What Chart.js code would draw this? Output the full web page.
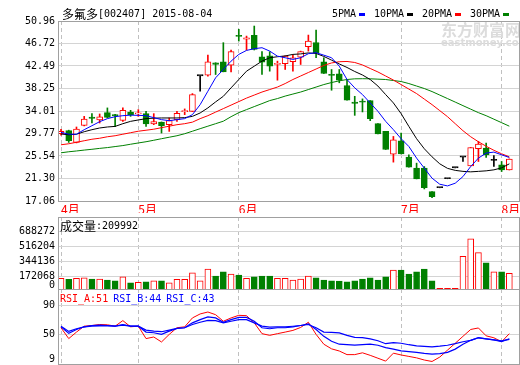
<!DOCTYPE html>
<html><head><meta charset="utf-8">
<script src="https://cdn.jsdelivr.net/npm/chart.js@4.4.1/dist/chart.umd.min.js"></script>
<style>
html,body{margin:0;padding:0;background:#fff;}
#wrap{position:relative;width:520px;height:365px;overflow:hidden;background:#fff;}
canvas{position:absolute;left:0;}
</style></head><body>
<div id="wrap">
<canvas id="cP" width="520" height="213" style="top:0px"></canvas>
<canvas id="cV" width="520" height="78" style="top:212px"></canvas>
<canvas id="cR" width="520" height="77" style="top:288px"></canvas>
</div>
<script>
// ---------------- data ----------------
const stockName = '多氟多', stockCode = '002407', chartDate = '2015-08-04';
const monthIdx   = [0, 10, 23, 44, 57];
const monthNames = ['4月', '5月', '6月', '7月', '8月'];
const priceTicks = [17.06, 21.30, 25.54, 29.77, 34.01, 38.25, 42.49, 46.72, 50.96];
const volTicks   = [172068, 344136, 516204, 688272];
const rsiTicks   = [9, 50, 90];

const open  = [29.73,30.30,28.09,31.30,32.80,32.32,33.70,33.32,32.25,33.83,33.45,33.51,31.57,31.94,31.43,32.38,33.88,33.95,40.64,40.75,
               43.10,43.29,42.64,48.20,47.55,48.26,44.23,44.42,42.77,42.91,43.29,44.15,46.12,46.88,43.29,40.85,41.02,38.81,35.60,35.80,
               35.97,31.62,30.17,25.89,28.41,25.33,23.25,23.25,18.82,19.55,21.25,23.30,25.33,23.68,26.90,27.03,24.68,23.87,22.93];
const high  = [30.55,30.40,31.00,33.00,33.51,33.45,34.59,33.40,34.59,34.14,34.27,33.95,33.51,31.95,32.70,33.95,34.40,37.29,40.64,44.53,
               43.10,46.88,45.48,49.39,48.12,50.01,45.18,45.18,43.40,44.40,44.53,45.29,48.31,49.26,44.04,41.83,41.83,39.81,36.78,36.29,
               35.97,31.62,30.17,29.22,29.86,25.76,24.19,23.55,18.82,19.55,21.25,23.30,25.33,27.14,28.28,27.97,25.63,24.50,25.00];
const low   = [29.45,28.09,28.00,31.20,31.75,31.75,32.70,31.05,32.06,33.00,33.00,31.11,31.43,29.86,30.17,32.06,33.32,33.90,37.73,40.56,
               40.88,41.39,41.39,47.18,45.48,45.50,40.88,41.51,39.81,41.83,41.51,42.77,45.29,44.04,41.07,37.92,39.32,36.03,33.19,33.83,
               32.19,29.67,26.76,24.38,25.95,23.44,21.22,19.33,17.69,19.55,21.25,23.30,24.50,23.68,24.50,25.25,23.55,22.61,22.90];
const close = [30.17,28.41,30.62,32.51,32.62,32.89,32.81,33.10,34.14,33.32,33.55,31.57,32.00,31.24,32.19,33.57,33.95,37.10,40.64,43.29,
               42.77,41.39,45.18,48.05,47.65,45.61,43.21,42.45,42.96,44.34,44.04,45.18,47.18,44.99,41.07,40.70,39.81,36.03,35.45,35.65,
               32.57,29.67,26.76,28.60,25.95,23.44,21.22,19.58,17.88,19.55,21.25,23.30,25.33,27.14,27.78,25.76,24.68,22.93,24.95];
const volume = [152500,141100,152500,159300,144500,144500,133100,125200,170700,102400,107000,113800,125200,125200,102400,141100,141100,216200,125200,258300,
                178700,227600,201400,190000,152500,170700,178700,178700,152500,152500,133100,144500,178700,159300,133100,125200,121800,113800,125200,144500,
                159300,133100,170700,247000,247000,201400,227600,258300,125200,39000,39000,39000,406300,607700,448400,330000,227600,227600,209992];
const ma5  = [29.98,29.64,29.64,30.49,31.24,32.00,32.57,32.94,33.13,33.23,33.19,33.13,32.76,32.38,32.19,32.38,32.57,33.32,35.21,37.73,
              40.26,41.83,43.40,44.67,45.42,45.74,45.93,45.29,44.34,44.04,43.72,44.04,44.80,44.99,44.53,44.04,42.45,39.94,38.37,37.10,
              35.53,33.95,32.06,30.49,28.79,27.33,25.14,23.25,21.36,20.22,19.90,20.41,21.66,23.55,25.14,26.08,26.27,25.76,25.25];
const ma10 = [29.67,29.54,29.64,30.11,30.49,30.81,31.00,31.11,31.62,32.06,32.32,32.57,32.66,32.70,32.70,32.70,32.76,33.00,33.64,34.59,
              35.72,36.78,38.37,39.94,41.51,42.45,43.40,44.04,44.23,44.38,44.67,44.76,44.95,44.85,44.29,43.59,42.87,42.21,41.45,40.79,
              39.94,38.71,37.10,35.53,33.51,31.11,28.79,26.90,25.38,24.06,23.21,22.83,22.64,22.55,22.64,22.74,22.93,23.30,24.06];
const ma20 = [27.65,27.84,28.12,28.41,28.69,28.88,29.16,29.35,29.64,29.92,30.20,30.39,30.58,30.87,31.15,31.43,31.62,31.91,32.57,33.13,
              33.80,34.46,35.12,35.78,36.44,37.01,37.58,38.05,38.52,39.18,39.94,40.60,41.26,41.92,42.59,43.06,43.29,43.34,43.15,42.68,
              42.02,41.36,40.60,39.84,38.99,38.14,37.29,36.25,35.21,34.08,32.94,31.62,30.30,29.16,28.22,27.37,26.61,25.95,25.38];
const ma30 = [26.14,26.33,26.48,26.65,26.80,26.97,27.12,27.31,27.50,27.75,27.99,28.22,28.50,28.79,29.07,29.35,29.73,30.20,30.68,31.15,
              31.62,32.09,32.94,33.70,34.27,34.84,35.40,35.97,36.35,36.82,37.20,37.58,38.05,38.52,38.99,39.37,39.69,39.94,40.07,40.09,
              40.07,40.01,39.94,39.75,39.56,39.18,38.71,38.24,37.67,37.01,36.35,35.69,35.02,34.36,33.70,33.13,32.47,31.81,31.15];
const rsiA = [59.2,44.2,53.2,61.4,62.3,63.7,63.3,61.4,69.1,60.5,61.4,44.2,46.4,39.5,50,59.2,60.5,72.8,78.3,81,
              77.3,68.2,72.8,76.4,75.9,66,51,48.7,51,53.2,55.5,59.6,66.8,50,36.4,30,27,22,22,24.5,
              21,17,13,24,21.5,19.5,17.5,14.5,12.5,18.6,28.2,37.7,47.3,56.8,58.9,48,45.3,39.8,51];
const rsiB = [60.5,51.4,56.8,60.5,62.3,62.7,62.3,61.4,63.7,61.4,61.4,53.2,52.3,50,54.5,58.2,59.2,66,70.5,74.2,
              72.8,66.8,70.5,73.6,73.6,68.2,59.2,57.8,59.2,59.2,60.3,62.3,64.6,56.8,47.3,40.5,36.4,35.7,35,35.7,
              36.4,35,31.6,29.6,27.2,26.2,25.1,23.7,22.7,23.4,25.1,29.6,36.4,41.8,45.5,43.9,42.5,40.1,44];
const rsiC = [61.4,54.1,57.8,60.5,61.4,61.9,61.9,61.4,62.7,61.4,61.4,55.9,54.5,53.7,55.9,58.2,59.2,63.7,66.8,69.5,
              69.1,66,68.2,70.5,70.5,66,61.4,60,60.5,60.5,61.3,62.3,63.7,59.2,53.2,52.8,52.1,48.7,45.9,45.5,
              43.9,41.2,37.1,38.7,37.7,35.7,34.1,33.4,32.7,33.7,35,37.1,39.8,41.8,45.3,43.9,42.5,40.9,43];

// ---------------- styling ----------------
const RED = '#ff0000', GREEN = '#008000', BLUE = '#0000ff', BLACK = '#000000';
const GRID = '#d4d4d4', VGRID = '#c0c0c0', FRAME = '#a0a0a0';
const MONO = '"DejaVu Sans Mono"', CJK = '"Noto Sans CJK SC"';
const X_MIN = -0.39, X_MAX = 59.25;
const VOL_MIN = 31000, VOL_MAX = 857000;
const RSI_MIN = 9, RSI_MAX = 112.85;

Chart.defaults.font.family = MONO;
Chart.defaults.font.size = 10;
Chart.defaults.color = BLACK;

const idx = close.map((_, i) => i);
const isFlat = i => open[i] === close[i];
const isUp = i => close[i] > open[i];
const candleColor = i => isFlat(i) ? BLACK : (isUp(i) ? RED : GREEN);
const pts = arr => arr.map((v, i) => ({x: i, y: v}));

function isCJKChar(ch) { return /[\u2E80-\u9FFF\uFF00-\uFFEF]/.test(ch); }
function drawMixed(ctx, str, x, y, color) {
  ctx.save();
  ctx.fillStyle = color; ctx.textBaseline = 'middle'; ctx.textAlign = 'left';
  const runs = [];
  for (const ch of str) {
    const c = isCJKChar(ch);
    if (runs.length && runs[runs.length - 1].c === c) runs[runs.length - 1].s += ch;
    else runs.push({c, s: ch});
  }
  for (const r of runs) {
    ctx.font = r.c ? '12px ' + CJK : '10px ' + MONO;
    ctx.fillText(r.s, x, y);
    x += ctx.measureText(r.s).width;
  }
  ctx.restore();
  return x;
}

function framePlugin(id, under, over) {
  return {
    id,
    beforeDatasetsDraw(chart) { if (under) under(chart.ctx, chart); },
    afterDraw(chart) {
      const a = chart.chartArea, ctx = chart.ctx;
      ctx.save();
      ctx.strokeStyle = FRAME; ctx.lineWidth = 1;
      const l = Math.round(a.left) + 0.5, t = Math.round(a.top) + 0.5;
      const r = Math.round(a.right) + 0.5, b = Math.round(a.bottom) + 0.5;
      ctx.strokeRect(l, t, r - l, b - t);
      ctx.restore();
      if (over) over(ctx, chart);
    }
  };
}

function xScale(showLabels) {
  return {
    type: 'linear', min: X_MIN, max: X_MAX, offset: false,
    afterBuildTicks: s => { s.ticks = monthIdx.map(v => ({value: v})); },
    ticks: {
      display: showLabels, autoSkip: false, maxRotation: 0, align: 'start', padding: 1,
      color: RED, font: {family: CJK, size: 12},
      callback: v => { const k = monthIdx.indexOf(v); return k >= 0 ? monthNames[k] : ''; }
    },
    grid: {color: VGRID, drawTicks: false, offset: false, lineWidth: 1},
    border: {display: false, dash: [4, 3]},
    afterFit: s => { s.height = showLabels ? 12 : 0; s.paddingLeft = 0; s.paddingRight = 0; }
  };
}

function yScale(min, max, ticks, labelFn, lineHeight) {
  return {
    type: 'linear', min, max,
    afterBuildTicks: s => { s.ticks = ticks.map(v => ({value: v})); },
    ticks: {autoSkip: false, padding: 3, color: BLACK,
            font: {family: MONO, size: 10, lineHeight: lineHeight || 1.2}, callback: labelFn},
    grid: {color: GRID, drawTicks: false, lineWidth: 1},
    border: {display: false},
    afterFit: s => { s.width = 58; s.paddingTop = 0; s.paddingBottom = 0; }
  };
}

function baseOptions(y, showLabels, padding) {
  return {
    responsive: false, animation: false, devicePixelRatio: 1, events: [],
    layout: {padding},
    plugins: {legend: {display: false}, tooltip: {enabled: false}, title: {display: false}},
    scales: {x: xScale(showLabels), y}
  };
}

const lineDs = (arr, color, w) => ({
  type: 'line', data: pts(arr), borderColor: color, borderWidth: w || 1,
  pointRadius: 0, tension: 0, fill: false, order: 0
});

// ---------------- price chart ----------------
new Chart(document.getElementById('cP'), {
  type: 'bar',
  data: {
    datasets: [
      {type: 'bar', data: idx.map(i => ({x: i, y: [low[i], high[i]]})),
       backgroundColor: idx.map(candleColor), borderWidth: 0, barThickness: 1, grouped: false, order: 3},
      {type: 'bar', data: idx.map(i => ({x: i, y: [Math.min(open[i], close[i]), Math.max(open[i], close[i])]})),
       backgroundColor: idx.map(i => isFlat(i) ? BLACK : (isUp(i) ? '#ffffff' : GREEN)),
       borderColor: idx.map(candleColor), borderWidth: 1, borderSkipped: false,
       minBarLength: 1.2, barThickness: 6, grouped: false, order: 2},
      lineDs(ma5, BLUE), lineDs(ma10, BLACK), lineDs(ma20, RED), lineDs(ma30, GREEN)
    ]
  },
  options: baseOptions(yScale(priceTicks[0], priceTicks[priceTicks.length - 1], priceTicks, v => v.toFixed(2)),
                       true, {top: 21, right: 1, left: 0, bottom: 0}),
  plugins: [framePlugin('fp',
    (ctx) => {
      ctx.save();
      ctx.fillStyle = '#dcdcdc';
      ctx.font = 'bold 16px ' + CJK; ctx.textBaseline = 'middle';
      ctx.fillText('东方财富网', 441, 30);
      ctx.font = 'bold 10px "DejaVu Sans"';
      ctx.fillText('eastmoney.com', 441, 43);
      ctx.restore();
    },
    (ctx) => {
      drawMixed(ctx, stockName + '[' + stockCode + '] ' + chartDate, 62, 14, BLACK);
      const legend = [['5PMA', BLUE], ['10PMA', BLACK], ['20PMA', RED], ['30PMA', GREEN]];
      let x = 332;
      for (const [t, c] of legend) {
        const e = drawMixed(ctx, t, x, 14, BLACK);
        ctx.fillStyle = c; ctx.fillRect(Math.round(e) + 3, 13, 6, 3);
        x = Math.round(e) + 18;
      }
    })]
});

// ---------------- volume chart ----------------
new Chart(document.getElementById('cV'), {
  type: 'bar',
  data: {
    datasets: [
      {type: 'bar', data: pts(volume),
       backgroundColor: idx.map(i => close[i] >= open[i] ? '#ffffff' : GREEN),
       borderColor: idx.map(i => close[i] >= open[i] ? RED : GREEN),
       borderWidth: 1, borderSkipped: false, minBarLength: 1.5, barThickness: 6, grouped: false}
    ]
  },
  options: baseOptions(yScale(VOL_MIN, VOL_MAX, [VOL_MIN, ...volTicks], v => v === VOL_MIN ? ['0', ''] : String(v), 0.7),
                       false, {top: 5, right: 1, left: 0, bottom: 1}),
  plugins: [framePlugin('fv', null, (ctx) => {
    drawMixed(ctx, '成交量:' + volume[volume.length - 1], 60, 14, BLACK);
  })]
});

// ---------------- RSI chart ----------------
new Chart(document.getElementById('cR'), {
  type: 'line',
  data: {datasets: [lineDs(rsiC, BLUE, 1.2), lineDs(rsiB, BLUE, 1.2), lineDs(rsiA, RED, 1)]},
  options: baseOptions(yScale(RSI_MIN, RSI_MAX, rsiTicks, v => v === RSI_MIN ? ['9', ''] : String(v), 0.85),
                       false, {top: 1, right: 1, left: 0, bottom: 1}),
  plugins: [framePlugin('fr', null, (ctx) => {
    const last = close.length - 1;
    let x = 60;
    x = drawMixed(ctx, 'RSI_A:' + Math.round(rsiA[last]), x, 11, RED) + 5;
    x = drawMixed(ctx, 'RSI_B:' + Math.round(rsiB[last]), x, 11, BLUE) + 5;
    drawMixed(ctx, 'RSI_C:' + Math.round(rsiC[last]), x, 11, BLUE);
  })]
});
</script>
</body></html>
